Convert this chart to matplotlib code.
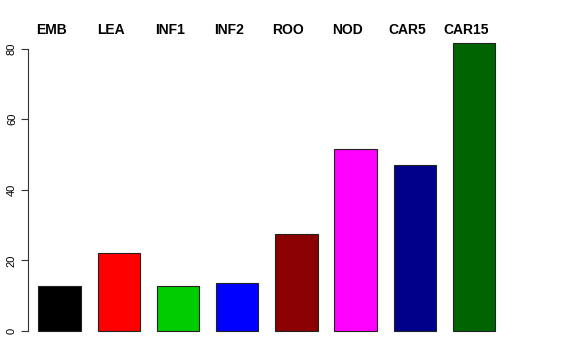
import matplotlib
matplotlib.use('Agg')
import matplotlib.pyplot as plt
import matplotlib.transforms as mtransforms
import numpy as np

plt.rcParams['font.family'] = ['Liberation Sans', 'DejaVu Sans']

# values
samples = ["EMB", "LEA", "INF1", "INF2", "ROO", "NOD", "CAR5", "CAR15"]
counts = [12.8, 22.1, 12.7, 13.6, 27.5, 51.6, 47.1, 81.7]
colors = ["black", "red", "#00CD00", "blue", "#8B0000", "magenta", "#00008B", "#006400"]
yticks = [0, 20, 40, 60, 80]

W, H = 576, 360
fig = plt.figure(figsize=(W / 100, H / 100), dpi=100)

# axes box in pixels (left, top, right, bottom), as in the reference
left_px, top_px, right_px, bottom_px = 28, 31, 560, 342.5
ax = fig.add_axes([left_px / W, 1 - bottom_px / H,
                   (right_px - left_px) / W, (bottom_px - top_px) / H])

# R barplot style: width 1, space 0.4
x = 0.9 + 1.4 * np.arange(len(samples))
ax.bar(x, counts, width=1.0, color=colors, edgecolor="#222222", linewidth=0.8)

px_per_unit = 42.3
x0 = 0.9 - (59.5 - left_px) / px_per_unit
ax.set_xlim(x0, x0 + (right_px - left_px) / px_per_unit)
ax.set_ylim(-0.04 * max(counts), 1.04 * max(counts))

for s in ["top", "right", "bottom"]:
    ax.spines[s].set_visible(False)
ax.spines["left"].set_bounds(0, 80)
ax.spines["left"].set_linewidth(0.8)
ax.spines["left"].set_color("#333333")

ax.set_xticks([])
ax.set_yticks(yticks)
ax.set_yticklabels([str(v) for v in yticks], rotation=90, va="center", fontsize=8)
ax.tick_params(axis="y", length=5, width=0.8, pad=3, color="#333333")

# sample names along the top, sitting a little left of each bar centre
trans = mtransforms.blended_transform_factory(ax.transData, fig.transFigure)
shift = 8 / px_per_unit
for xi, name in zip(x, samples):
    ax.text(xi - shift, 1 - 29.5 / H, name, transform=trans, ha="center", va="center",
            fontsize=10, fontweight="bold", clip_on=False)

fig.savefig("out.png", dpi=100)
